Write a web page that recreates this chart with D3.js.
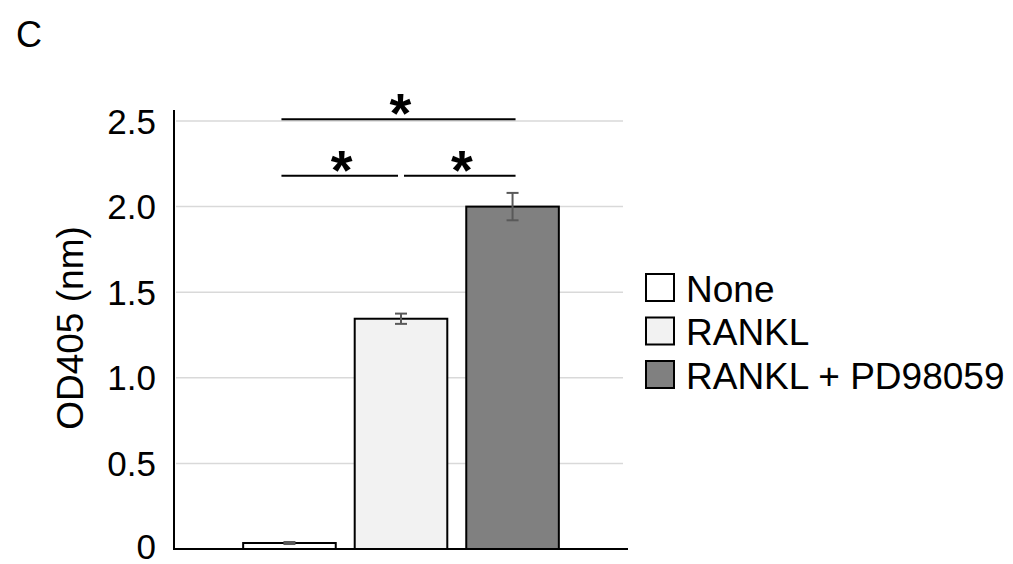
<!DOCTYPE html>
<html>
<head>
<meta charset="utf-8">
<script src="https://cdn.jsdelivr.net/npm/d3@7"></script>
<style>
  html, body { margin: 0; padding: 0; background: #fff; }
  svg { display: block; font-family: "Liberation Sans", Arial, sans-serif; }
</style>
</head>
<body>
<svg id="chart" width="1013" height="564"></svg>
<script>
// Treatment groups and their mean OD405 with error (SD)
const groups = ["None", "RANKL", "RANKL + PD98059"];
const means = [0.035, 1.345, 2.0];
const errors = [0.006, 0.03, 0.08];
const fills = ["#ffffff", "#f2f2f2", "#808080"];

// Y-axis ticks
const tickValues = [0, 0.5, 1.0, 1.5, 2.0, 2.5];
const tickLabels = ["0", "0.5", "1.0", "1.5", "2.0", "2.5"];

// Significance comparisons: [from group, to group, bracket height]
const comparisons = [[0, 2, 2.51], [0, 1, 2.18], [1, 2, 2.18]];
const marks = ["*", "*", "*"];

const svg = d3.select("#chart");
const plotLeft = 174, plotRight = 628, plotBottom = 549, plotTop = 121;

const y = d3.scaleLinear().domain([0, 2.5]).range([plotBottom, plotTop]);
const x = d3.scaleBand().domain(d3.range(groups.length))
  .range([plotLeft, plotRight]).paddingInner(0.17).paddingOuter(0.62);

// Gridlines
svg.append("g").selectAll("line").data(tickValues.filter(v => v > 0)).join("line")
  .attr("x1", plotLeft + 2).attr("x2", plotRight - 5)
  .attr("y1", d => y(d)).attr("y2", d => y(d))
  .attr("stroke", "#d9d9d9").attr("stroke-width", 1.5);

// Tick labels (the zero label sits slightly above the baseline)
svg.append("g").selectAll("text").data(tickValues).join("text")
  .attr("x", 156).attr("y", d => y(d) - (d === 0 ? 3 : 0)).attr("dy", "0.36em")
  .attr("text-anchor", "end").attr("font-size", 35).attr("fill", "#000")
  .text((d, i) => tickLabels[i]);

// Bars
svg.append("g").selectAll("rect").data(means).join("rect")
  .attr("x", (d, i) => x(i)).attr("width", x.bandwidth())
  .attr("y", d => y(d)).attr("height", d => y(0) - y(d))
  .attr("fill", (d, i) => fills[i]).attr("stroke", "#000").attr("stroke-width", 2);

// Error bars
const eb = svg.append("g").attr("stroke", "#595959").attr("stroke-width", 2);
means.forEach((m, i) => {
  const cx = x(i) + x.bandwidth() / 2;
  eb.append("line").attr("x1", cx).attr("x2", cx)
    .attr("y1", y(m + errors[i])).attr("y2", y(m - errors[i]));
  [m + errors[i], m - errors[i]].forEach(v => {
    eb.append("line").attr("x1", cx - 6).attr("x2", cx + 6)
      .attr("y1", y(v)).attr("y2", y(v));
  });
});

// Axis lines
svg.append("line").attr("x1", plotLeft).attr("x2", plotLeft)
  .attr("y1", 110).attr("y2", plotBottom + 1)
  .attr("stroke", "#000").attr("stroke-width", 2);
svg.append("line").attr("x1", plotLeft - 1).attr("x2", plotRight)
  .attr("y1", plotBottom).attr("y2", plotBottom)
  .attr("stroke", "#000").attr("stroke-width", 2);

// Significance brackets
const center = i => x(i) + x.bandwidth() / 2;
comparisons.forEach(([a, b, h], k) => {
  const x1 = center(a) + (a === 0 ? -8 : 3);
  const x2 = center(b) + (b === groups.length - 1 ? 3 : -3);
  svg.append("line").attr("x1", x1).attr("x2", x2)
    .attr("y1", y(h)).attr("y2", y(h))
    .attr("stroke", "#000").attr("stroke-width", 2);
  svg.append("text").attr("x", (x1 + x2) / 2 + 2).attr("y", y(h) + 13)
    .attr("text-anchor", "middle").attr("font-size", 56).attr("font-weight", "bold")
    .text(marks[k]);
});

// Y-axis title
svg.append("text")
  .attr("transform", "translate(83,328) rotate(-90)")
  .attr("text-anchor", "middle").attr("font-size", 37)
  .text("OD405 (nm)");

// Panel letter
svg.append("text").attr("x", 16).attr("y", 47).attr("font-size", 36).text("C");

// Legend
const lg = svg.append("g").attr("transform", "translate(646,274)");
groups.forEach((g, i) => {
  const row = lg.append("g").attr("transform", `translate(0,${i * 43.5})`);
  row.append("rect").attr("width", 28).attr("height", 27)
    .attr("fill", fills[i]).attr("stroke", "#000").attr("stroke-width", 2);
  row.append("text").attr("x", 40).attr("y", 27.5)
    .attr("font-size", 37).text(g);
});
</script>
</body>
</html>
